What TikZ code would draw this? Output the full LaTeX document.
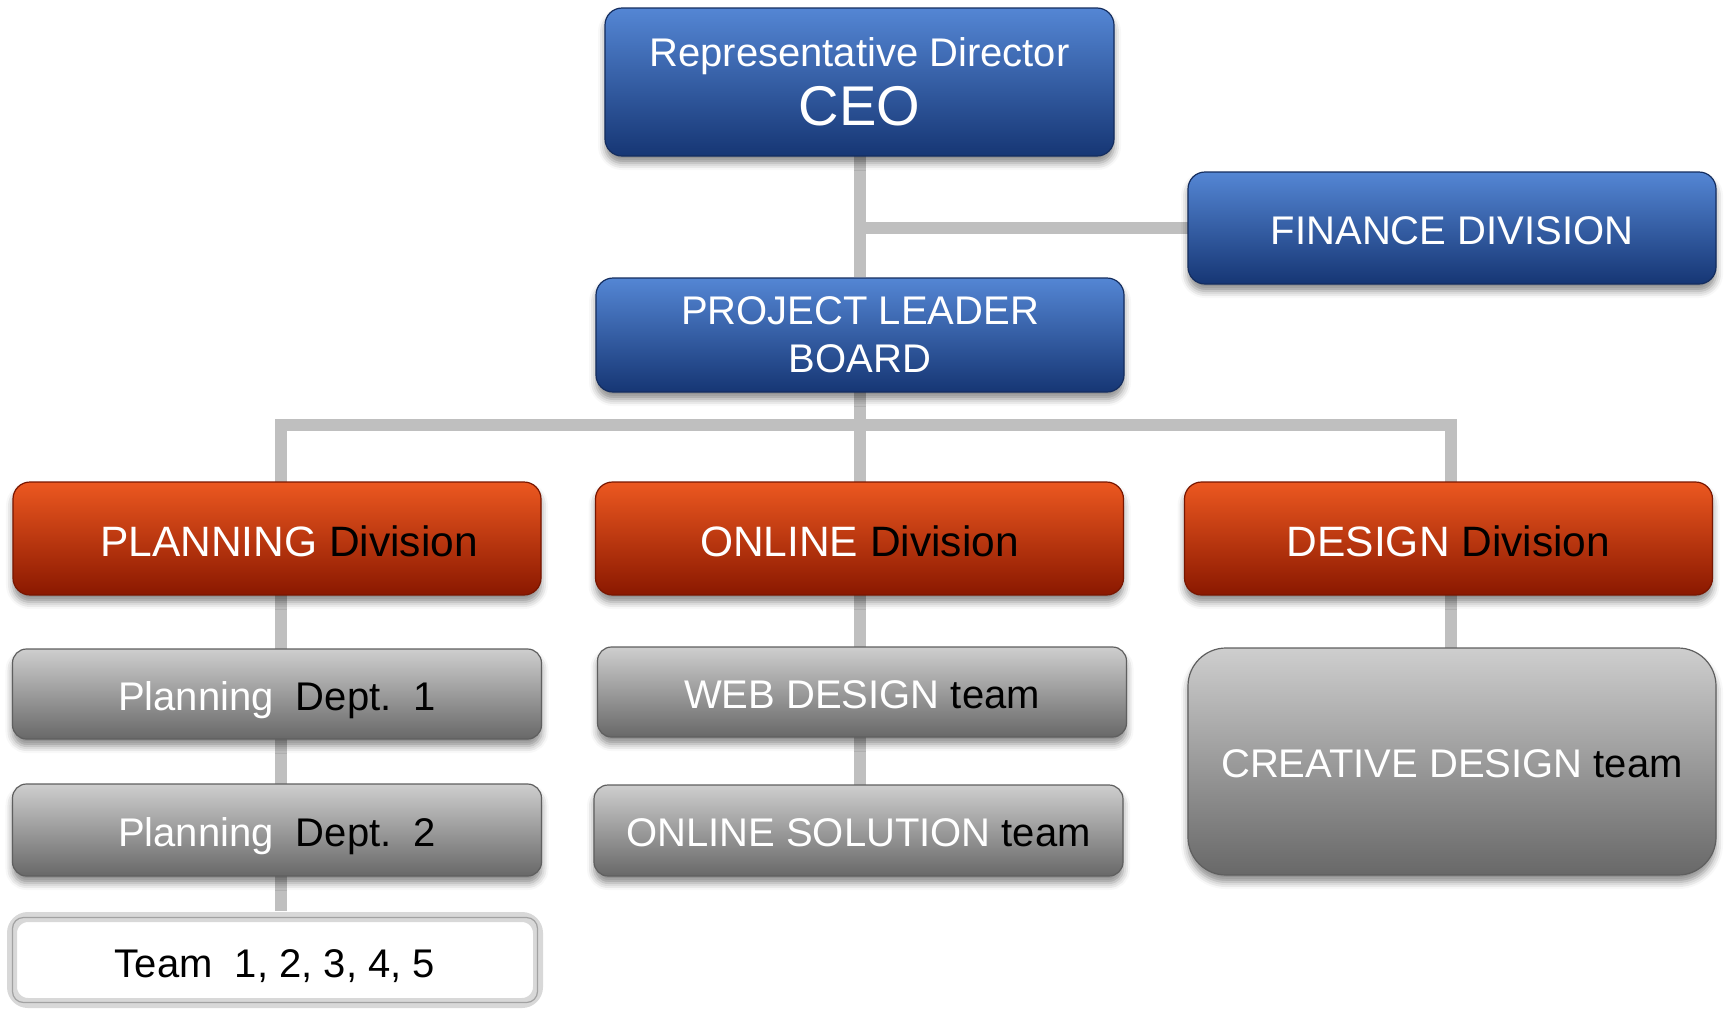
\documentclass[tikz,border=0pt]{standalone}
\usepackage{fontspec}
\setmainfont{Liberation Sans}
\usetikzlibrary{shadows.blur}

\definecolor{bluetop}{RGB}{84,134,212}
\definecolor{bluemid}{RGB}{36,86,166}
\definecolor{bluebot}{RGB}{22,54,116}
\definecolor{blueline}{RGB}{20,45,95}
\definecolor{redtop}{RGB}{236,88,32}
\definecolor{redmid}{RGB}{198,44,4}
\definecolor{redbot}{RGB}{138,24,0}
\definecolor{redline}{RGB}{120,22,0}
\definecolor{graytop}{RGB}{206,206,206}
\definecolor{graymid}{RGB}{160,160,160}
\definecolor{graybot}{RGB}{104,104,104}
\definecolor{grayline}{RGB}{95,95,95}
\definecolor{linkgray}{RGB}{191,191,191}
\definecolor{teamrim}{RGB}{216,216,216}

\begin{document}
\begin{tikzpicture}[x=1pt,y=-1pt,
  box/.style={rectangle, rounded corners=17pt, inner sep=0pt, align=center,
    text=white, line width=1.2pt,
    blur shadow={shadow xshift=0pt, shadow yshift=-7pt,
      shadow blur radius=7pt, shadow opacity=45}},
  oneline/.style={text height=#1, text depth=0pt},
  bluebox/.style={box, draw=blueline, top color=bluetop, middle color=bluemid,
    bottom color=bluebot, font=\fontsize{40}{48}\selectfont},
  redbox/.style={box, oneline=35pt, draw=redline, top color=redtop, middle color=redmid,
    bottom color=redbot, minimum width=528pt, minimum height=113pt,
    font=\fontsize{42.5}{50}\selectfont},
  graybox/.style={box, oneline=32pt, rounded corners=14pt, draw=grayline, top color=graytop,
    middle color=graymid, bottom color=graybot, minimum width=529pt,
    font=\fontsize{40}{48}\selectfont},
  link/.style={draw=linkgray, line width=12pt}
]
\useasboundingbox (0,0) rectangle (1725,1010);

% connectors, drawn first so the boxes sit on top
\coordinate (bus) at (860,425);
\coordinate (ceoanchor) at (860,155);
\coordinate (plbanchor) at (860,277);
\coordinate (finjoin) at (860,228);
\coordinate (finend) at (1190,228);
\draw[link] (ceoanchor) -- (plbanchor);
\draw[link] (finjoin) -- (finend);
\coordinate (planlink) at (281,482);
\coordinate (onlinelink) at (860,482);
\coordinate (designlink) at (1451,482);
\draw[link] (planlink) |- (bus) -| (designlink);
\draw[link] (860,391) -- (onlinelink);
\draw[link] (281,595) -- (281,911);
\draw[link] (860,595) -- (860,786);
\draw[link] (1451,595) -- (1451,648);

% top management
\node[bluebox, minimum width=509pt, minimum height=148pt,
      font=\fontsize{40}{62}\selectfont] (ceo) at (859.5,82)
  {Representative Director\\[-3pt]{\fontsize{56}{62}\selectfont CEO}};
\node[bluebox, oneline=33pt, minimum width=528pt, minimum height=112pt] (fin) at (1452,228)
  {FINANCE DIVISION};
\node[bluebox, minimum width=528pt, minimum height=114pt] (plb) at (860,335)
  {PROJECT LEADER\\BOARD};

% divisions
\node[redbox] (plan) at (277,538.5) {\hspace*{24pt}PLANNING \textcolor{black}{Division}};
\node[redbox] (online) at (859.5,538.5) {ONLINE \textcolor{black}{Division}};
\node[redbox] (design) at (1448.5,538.5) {DESIGN \textcolor{black}{Division}};

% departments and teams
\node[graybox, minimum height=90pt] (dept1) at (277,694)
  {Planning\ \ \textcolor{black}{Dept.\ \ 1}};
\node[graybox, minimum height=92pt] (dept2) at (277,830)
  {Planning\ \ \textcolor{black}{Dept.\ \ 2}};
\node[graybox, minimum height=90pt] (web) at (862,692)
  {WEB DESIGN \textcolor{black}{team}};
\node[graybox, minimum height=91pt] (solution) at (858.5,830.5)
  {ONLINE SOLUTION \textcolor{black}{team}};
\node[graybox, rounded corners=38pt, minimum width=528pt, minimum height=227pt]
  (creative) at (1452,761.5) {CREATIVE DESIGN \textcolor{black}{team}};

% team list box with a double rim
\node[rectangle, oneline=35pt, rounded corners=16pt, draw=teamrim, line width=10pt, fill=white,
      minimum width=526pt, minimum height=86pt, inner sep=0pt,
      font=\fontsize{40}{48}\selectfont] (team) at (275,960)
  {Team\ \ 1, 2, 3, 4, 5};
\draw[draw=linkgray!85!black, line width=1.2pt, rounded corners=11pt]
  ([shift={(5.5,5.5)}]team.north west) rectangle ([shift={(-5.5,-5.5)}]team.south east);
\end{tikzpicture}
\end{document}
